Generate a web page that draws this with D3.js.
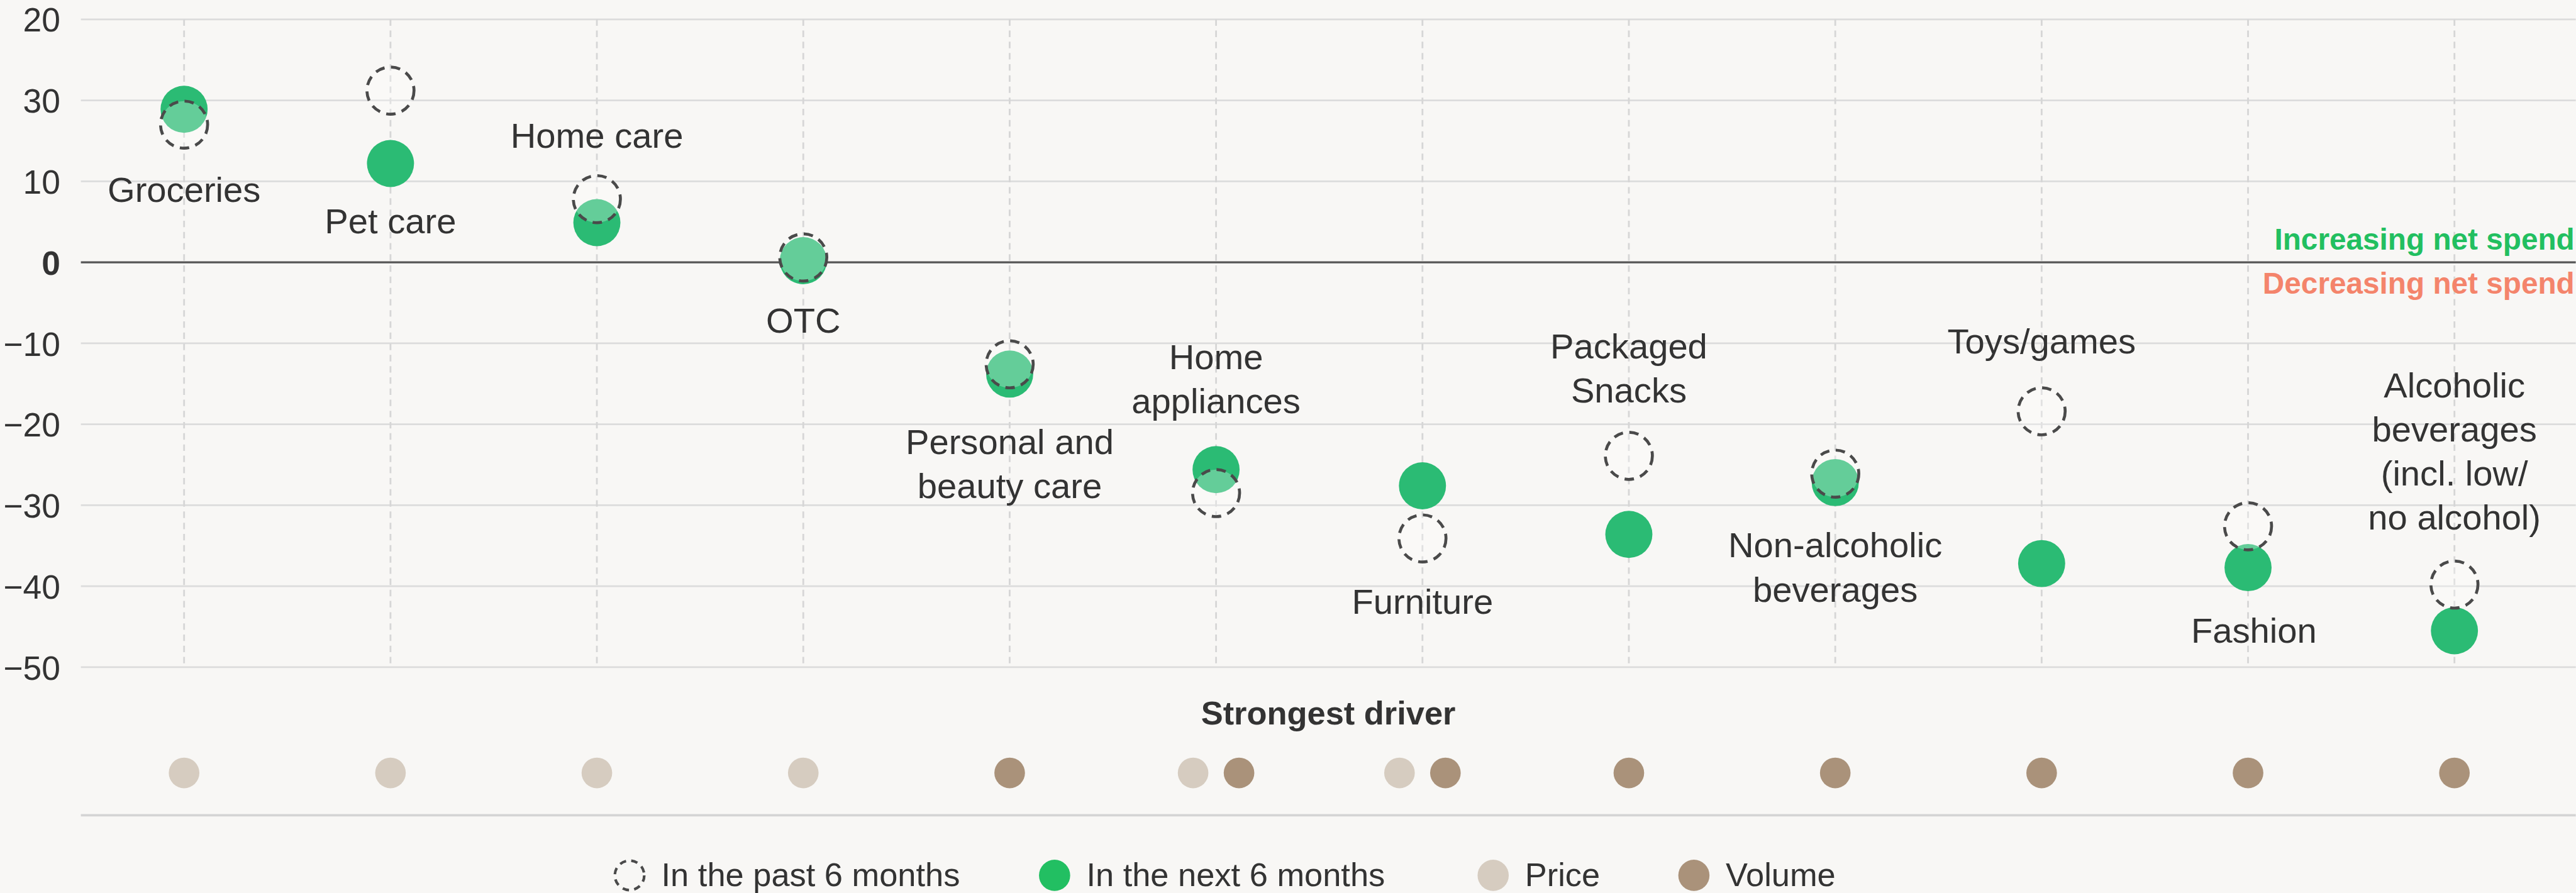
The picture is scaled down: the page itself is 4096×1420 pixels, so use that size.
<!DOCTYPE html>
<html>
<head>
<meta charset="utf-8">
<script src="https://cdn.jsdelivr.net/npm/d3@7"></script>
<style>
  html, body { margin: 0; padding: 0; background: #f8f7f5; }
  svg { display: block; }
  text { font-family: "Liberation Sans", Arial, sans-serif; fill: #333; }
</style>
</head>
<body>
<svg id="chart" width="4096" height="1420" viewBox="0 0 4375 1517"></svg>
<script>
// ---------- data ----------
const categories = ["Groceries", "Pet care", "Home care", "OTC", "Personal and beauty care",
  "Home appliances", "Furniture", "Packaged Snacks", "Non-alcoholic beverages", "Toys/games",
  "Fashion", "Alcoholic beverages (incl. low/ no alcohol)"];
const labelLines = [["Groceries"], ["Pet care"], ["Home care"], ["OTC"], ["Personal and", "beauty care"],
  ["Home", "appliances"], ["Furniture"], ["Packaged", "Snacks"], ["Non-alcoholic", "beverages"],
  ["Toys/games"], ["Fashion"], ["Alcoholic", "beverages", "(incl. low/", "no alcohol)"]];
const pastSixMonths = [17.0, 21.2, 7.8, 0.6, -12.6, -28.5, -34.1, -23.9, -26.1, -18.4, -32.6, -39.8];
const nextSixMonths = [18.9, 12.2, 4.9, 0.2, -13.8, -25.6, -27.6, -33.6, -27.2, -37.2, -37.7, -45.5];
const strongestDriver = [["Price"], ["Price"], ["Price"], ["Price"], ["Volume"], ["Price", "Volume"],
  ["Price", "Volume"], ["Volume"], ["Volume"], ["Volume"], ["Volume"], ["Volume"]];
const tickValues = [30, 20, 10, 0, -10, -20, -30, -40, -50];
const tickLabels = ["20", "30", "10", "0", "\u221210", "\u221220", "\u221230", "\u221240", "\u221250"];
const legendItems = ["In the past 6 months", "In the next 6 months", "Price", "Volume"];

// ---------- layout ----------
// anchor (in y-axis units) of each category label's first line
const labelAnchor = [7.44, 3.55, 14.14, -8.67, -23.69, -13.19, -43.43, -11.88, -36.44, -11.23, -46.96, -16.67];
const labelShift = [0, 0, 0, 0, 0, 0, 0, 0, 0, 0, 10, 0];
const legendX = [1069, 1791, 2536, 2877];

// ---------- styles ----------
const C = {
  grid: "#dcdcdc", zero: "#555", vline: "#d6d6d6", next: "#2bbb74", nextLegend: "#22bf62",
  past: "#4a4a4a", price: "#d6ccc0", volume: "#aa927a", inc: "#22bf60", dec: "#f4846b"
};

const svg = d3.select("#chart");
const W = 4375, left = 137;
const x = d3.scaleBand().domain(categories).range([left, left + 12 * 350.6]);
const y = d3.scaleLinear().domain([30, -50]).range([32.9, 1133.4]);
const cx = d => x(d) + x.bandwidth() / 2;

// gridlines
svg.append("g").selectAll("line").data(tickValues.filter(v => v !== 0)).join("line")
  .attr("x1", left).attr("x2", W).attr("y1", d => y(d)).attr("y2", d => y(d))
  .attr("stroke", C.grid).attr("stroke-width", 3);

// vertical dashed category lines
svg.append("g").selectAll("line").data(categories).join("line")
  .attr("x1", cx).attr("x2", cx).attr("y1", y(30)).attr("y2", y(-50))
  .attr("stroke", C.vline).attr("stroke-width", 3).attr("stroke-dasharray", "11,8");

// zero line
svg.append("line").attr("x1", left).attr("x2", W).attr("y1", y(0)).attr("y2", y(0))
  .attr("stroke", C.zero).attr("stroke-width", 3.5);

// y axis
const yAxis = d3.axisLeft(y).tickValues(tickValues).tickSize(0).tickPadding(0)
  .tickFormat((d, i) => tickLabels[i]);
const ga = svg.append("g").attr("transform", "translate(102,0)").call(yAxis);
ga.select(".domain").remove();
ga.selectAll("text").attr("font-size", 57).attr("fill", "#333")
  .attr("font-family", "Liberation Sans, Arial, sans-serif")
  .attr("font-weight", d => d === 0 ? 700 : 400).attr("dy", "0.36em");

// increasing / decreasing
svg.append("text").attr("x", 4373).attr("y", 424).attr("text-anchor", "end")
  .attr("font-size", 51).attr("font-weight", 700).style("fill", C.inc).text("Increasing net spend");
svg.append("text").attr("x", 4373).attr("y", 499).attr("text-anchor", "end")
  .attr("font-size", 51).attr("font-weight", 700).style("fill", C.dec).text("Decreasing net spend");

// next 6 months circles
svg.append("g").selectAll("circle").data(categories).join("circle")
  .attr("cx", cx).attr("cy", (d, i) => y(nextSixMonths[i])).attr("r", 40)
  .attr("fill", C.next);

// past 6 months circles
svg.append("g").selectAll("circle").data(categories).join("circle")
  .attr("cx", cx).attr("cy", (d, i) => y(pastSixMonths[i])).attr("r", 40)
  .attr("fill", "#ffffff").attr("fill-opacity", 0.27)
  .attr("stroke", C.past).attr("stroke-width", 5).attr("stroke-dasharray", "16,11");

// category labels
const lab = svg.append("g").selectAll("text").data(categories).join("text")
  .attr("text-anchor", "middle").attr("font-size", 60)
  .attr("x", (d, i) => cx(d) + labelShift[i]).attr("y", (d, i) => y(labelAnchor[i]));
lab.each(function(d, i) {
  const t = d3.select(this);
  labelLines[i].forEach((ln, j) => {
    t.append("tspan").attr("x", cx(d) + labelShift[i]).attr("dy", j === 0 ? 0 : 75).text(ln);
  });
});

// strongest driver
svg.append("text").attr("x", (left + W) / 2).attr("y", 1231).attr("text-anchor", "middle")
  .attr("font-size", 56).attr("font-weight", 700).text("Strongest driver");

const driverDots = [];
strongestDriver.forEach((arr, i) => {
  arr.forEach((drv, j) => {
    const off = arr.length === 2 ? (j === 0 ? -39 : 39) : 0;
    driverDots.push({ cat: categories[i], drv, off });
  });
});
svg.append("g").selectAll("circle").data(driverDots).join("circle")
  .attr("cx", d => cx(d.cat) + d.off).attr("cy", 1313).attr("r", 26)
  .attr("fill", d => d.drv === "Price" ? C.price : C.volume);

// bottom rule
svg.append("line").attr("x1", 137).attr("x2", W).attr("y1", 1385).attr("y2", 1385)
  .attr("stroke", "#d4d4d4").attr("stroke-width", 4);

// legend
const lg = svg.append("g");
const ly = 1487;
legendItems.forEach((name, i) => {
  const lx = legendX[i];
  if (i === 0) {
    lg.append("circle").attr("cx", lx).attr("cy", ly).attr("r", 25)
      .attr("fill", "none").attr("stroke", C.past).attr("stroke-width", 4.5).attr("stroke-dasharray", "11,9");
  } else {
    lg.append("circle").attr("cx", lx).attr("cy", ly).attr("r", 26.5)
      .attr("fill", i === 1 ? C.nextLegend : i === 2 ? C.price : C.volume);
  }
  lg.append("text").attr("x", lx + 54).attr("y", 1505).attr("font-size", 56).text(name);
});
</script>
</body>
</html>
